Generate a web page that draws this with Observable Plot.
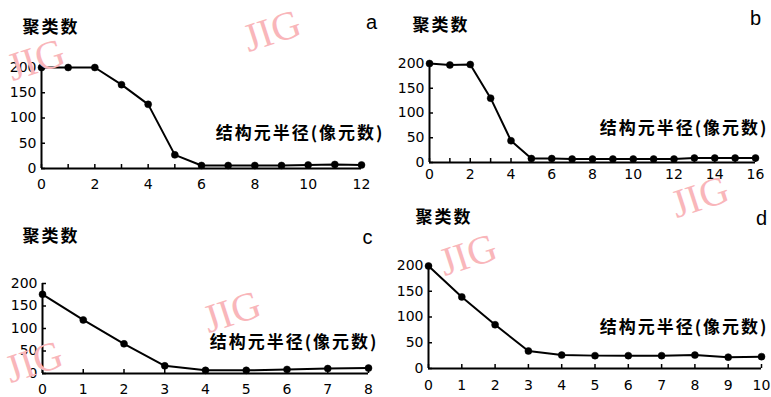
<!DOCTYPE html>
<html><head><meta charset="utf-8">
<script src="https://cdn.jsdelivr.net/npm/d3@7"></script>
<script src="https://cdn.jsdelivr.net/npm/@observablehq/plot@0.6"></script>
<style>
body{margin:0;background:#fff;}
#wrap{position:relative;width:771px;height:397px;overflow:hidden;background:#fff;}
.panel{position:absolute;}
.wm{position:absolute;font-family:"Liberation Serif",serif;color:#f9b6ba;font-size:40px;white-space:nowrap;pointer-events:none;line-height:1;}
</style></head><body><div id="wrap"></div>
<script>
// ---- data ----
const yLabel = "聚类数";
const xLabel = "结构元半径(像元数)";
const panelLetters = ["a", "b", "c", "d"];
const yTicks = [0, 50, 100, 150, 200];

const radiusA = [0,1,2,3,4,5,6,7,8,9,10,11,12];
const clustersA = [200,200,200,166,127,27,6,6,6,6,7,8,7];
const xTickLabelsA = [0,2,4,6,8,10,12];

const radiusB = [0,1,2,3,4,5,6,7,8,9,10,11,12,13,14,15,16];
const clustersB = [200,197,198,130,44,8,8,7,7,7,7,7,7,9,9,9,9];
const xTickLabelsB = [0,2,4,6,8,10,12,14,16];

const radiusC = [0,1,2,3,4,5,6,7,8];
const clustersC = [176,119,66,17,7,7,9,11,12];
const xTickLabelsC = [0,1,2,3,4,5,6,7,8];

const radiusD = [0,1,2,3,4,5,6,7,8,9,10];
const clustersD = [199,139,85,34,26,25,25,25,26,22,23];
const xTickLabelsD = [0,1,2,3,4,5,6,7,8,9,10];

const watermarkText = "JIG";

// ---- layout ----
const panels = [
  {letter: panelLetters[0], xs: radiusA, ys: clustersA, labels: xTickLabelsA,
   left: 0, top: 0, w: 390, h: 200, mL: 41, mR: 29, mT: 67, mB: 32, tpX: 11,
   yLab: [-19, -40], let: [11, -45], xt: [23, 66]},
  {letter: panelLetters[1], xs: radiusB, ys: clustersB, labels: xTickLabelsB,
   left: 390, top: 0, w: 381, h: 200, mL: 39, mR: 16, mT: 63, mB: 38, tpX: 7,
   yLab: [-17, -38], let: [1, -45], xt: [13, 65]},
  {letter: panelLetters[2], xs: radiusC, ys: clustersC, labels: xTickLabelsC,
   left: 0, top: 200, w: 390, h: 197, mL: 42, mR: 22, mT: 83, mB: 24, tpX: 11,
   yLab: [-20, -47], let: [0, -46], xt: [10, 59]},
  {letter: panelLetters[3], xs: radiusD, ys: clustersD, labels: xTickLabelsD,
   left: 390, top: 200, w: 381, h: 197, mL: 38, mR: 10, mT: 65, mB: 29, tpX: 12,
   yLab: [-13, -48], let: [1, -47], xt: [7, 62]}
];

const wrap = document.getElementById("wrap");

for (const p of panels) {
  const rows = p.xs.map((r, i) => ({r, n: p.ys[i]}));
  const xMax = d3.max(p.xs);
  const fw = p.w - p.mL - p.mR;
  const fh = p.h - p.mT - p.mB;
  const cjk = {fontFamily: "Noto Sans CJK SC", fontWeight: "bold", fontSize: 17, fill: "black"};
  const svg = Plot.plot({
    width: p.w, height: p.h,
    marginLeft: p.mL, marginRight: p.mR, marginTop: p.mT, marginBottom: p.mB,
    style: {fontFamily: "DejaVu Sans", fontSize: "14px", color: "black", background: "transparent", overflow: "visible"},
    x: {domain: [0, xMax]},
    y: {domain: [0, 200]},
    marks: [
      Plot.ruleY([0], {strokeWidth: 2, stroke: "black"}),
      Plot.ruleX([0], {strokeWidth: 2, stroke: "black"}),
      Plot.ruleX(p.xs, {x: d => d, insetTop: fh - 4, strokeWidth: 1.5, stroke: "black"}),
      Plot.ruleY(yTicks, {y: d => d, insetRight: fw - 4, strokeWidth: 1.5, stroke: "black"}),
      Plot.axisY(yTicks, {tickSize: 0, tickPadding: 5, fontSize: 14, label: null}),
      Plot.axisX(p.labels, {tickSize: 0, tickPadding: p.tpX, fontSize: 14, label: null}),
      Plot.line(rows, {x: "r", y: "n", stroke: "black", strokeWidth: 2}),
      Plot.dot(rows, {x: "r", y: "n", r: 3.5, fill: "black", stroke: "black", strokeWidth: 0.5}),
      Plot.text([yLabel], {text: d => d, frameAnchor: "top-left", textAnchor: "start", lineAnchor: "middle", dx: p.yLab[0], dy: p.yLab[1], ...cjk}),
      Plot.text([xLabel], {text: d => d, frameAnchor: "top-right", textAnchor: "end", lineAnchor: "middle", dx: p.xt[0], dy: p.xt[1], ...cjk}),
      Plot.text([p.letter], {text: d => d, frameAnchor: "top-right", textAnchor: "middle", lineAnchor: "middle", dx: p.let[0], dy: p.let[1], fontFamily: "Liberation Sans", fontSize: 20, fill: "black"})
    ]
  });
  d3.select(svg).selectAll('g[aria-label="text"] text').style("letter-spacing", "2px");
  svg.classList.add("panel");
  svg.style.left = p.left + "px";
  svg.style.top = p.top + "px";
  wrap.appendChild(svg);
}

// scan watermark overlay
const marks = [[272, 31], [36, 60], [700, 197], [232, 312], [34, 362], [468, 255]];
for (const [cx, cy] of marks) {
  const d = document.createElement("div");
  d.className = "wm";
  d.textContent = watermarkText;
  d.style.left = cx + "px";
  d.style.top = cy + "px";
  d.style.transform = "translate(-50%,-50%) rotate(-18deg)";
  wrap.appendChild(d);
}
</script></body></html>
